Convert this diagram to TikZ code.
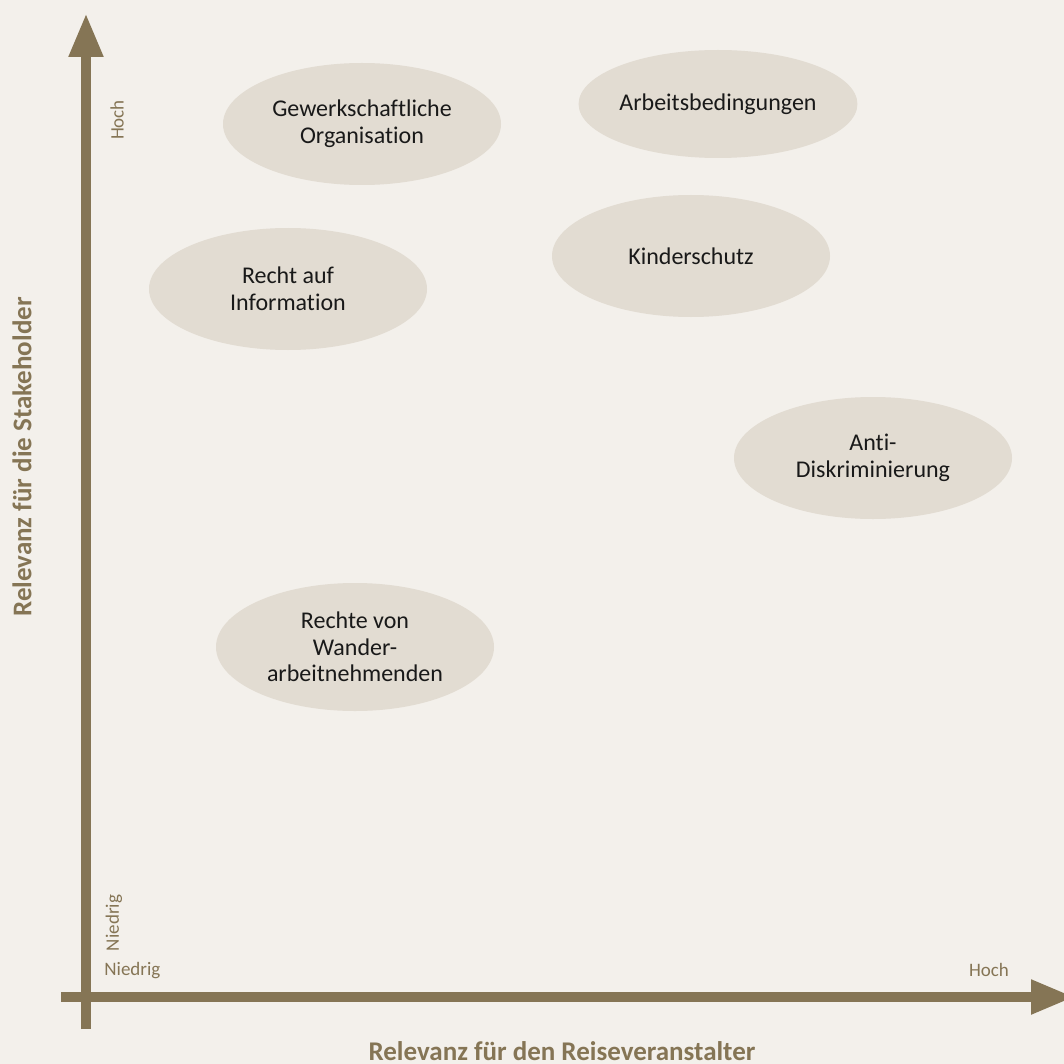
\documentclass[tikz,border=0pt]{standalone}
\usepackage{fontspec}
\setmainfont{Carlito}[Ligatures=NoCommon]
\usetikzlibrary{arrows.meta,shapes.geometric}
\definecolor{bgbeige}{HTML}{F3F0EB}
\definecolor{ovalbeige}{HTML}{E2DCD2}
\definecolor{axisbrown}{HTML}{857555}

\begin{document}
\begin{tikzpicture}[x=0.5pt,y=-0.5pt,
  topic/.style={ellipse, fill=ovalbeige, minimum width=139pt, minimum height=61pt, inner sep=0pt, align=center, font=\fontsize{12}{13.3}\selectfont, text=black!90},
  tick/.style={text=axisbrown, font=\fontsize{9.5}{11}\selectfont, inner sep=0pt},
  axislabel/.style={text=axisbrown, font=\bfseries\fontsize{13.5}{15}\selectfont, inner sep=0pt}]
\fill[bgbeige] (0,0) rectangle (1064,1064);
\useasboundingbox (0,0) rectangle (1064,1064);

% axes
\coordinate (ybot) at (86,1029);
\coordinate (ytop) at (86,13);
\coordinate (xleft) at (61,997);
\coordinate (xright) at (1075,997);
\draw[axisbrown, line width=5.3pt, -{Triangle[length=22pt,width=16pt]}] (ybot) -- (ytop);
\draw[axisbrown, line width=5.3pt, -{Triangle[length=22pt,width=16pt]}] (xleft) -- (xright);

% scale labels
\node[tick, rotate=90] (yhoch) at (117,120) {Hoch};
\node[tick, rotate=90] (yniedrig) at (114,923) {Niedrig};
\node[tick, anchor=west] (xniedrig) at (104,971) {Niedrig};
\node[tick] (xhoch) at (989,970) {Hoch};
\node[axislabel, anchor=base] (xlabel) at (562,1060) {Relevanz für den Reiseveranstalter};
\node[axislabel, rotate=90] (ylabel) at (22,457) {Relevanz für die Stakeholder};

% topics
\node[topic] (gewerkschaft) at (362,124) {Gewerkschaftliche\\Organisation};
\node[topic, minimum height=54pt] (arbeit) at (718,104) {Arbeitsbedingungen};
\node[topic] (kinder) at (691,256) {Kinderschutz};
\node[topic] (information) at (288,289) {Recht auf\\Information};
\node[topic] (diskriminierung) at (873,458) {Anti-\\Diskriminierung};
\node[topic, minimum height=64pt] (wander) at (355,647) {Rechte von\\Wander-\\arbeitnehmenden};

\end{tikzpicture}
\end{document}
